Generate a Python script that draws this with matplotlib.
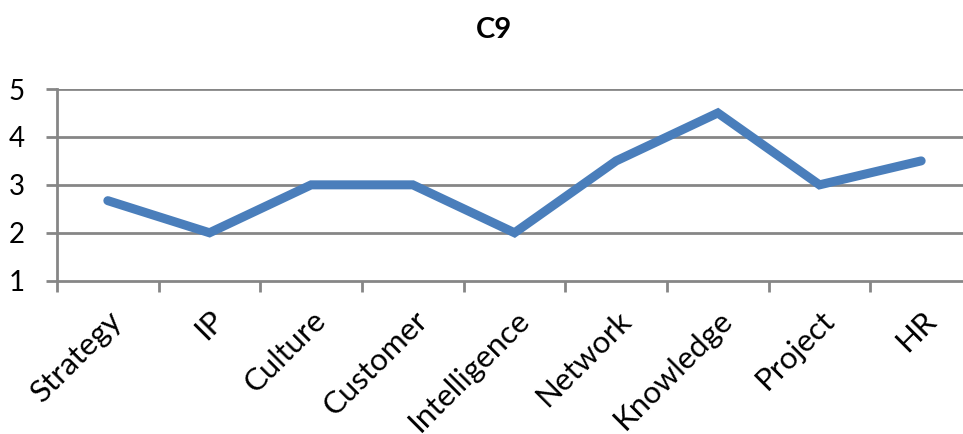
import matplotlib
matplotlib.use("Agg")
import matplotlib.pyplot as plt
import matplotlib.transforms as mtransforms
import numpy as np

categories = ["Strategy", "IP", "Culture", "Customer", "Intelligence",
              "Network", "Knowledge", "Project", "HR"]
values = [2.67, 2, 3, 3, 2, 3.5, 4.5, 3, 3.5]
yticks = [1, 2, 3, 4, 5]
title = "C9"

plt.rcParams['font.family'] = ['Lato', 'DejaVu Sans']

W, H = 963, 434
fig = plt.figure(figsize=(W/100, H/100), dpi=100)
left, right, bottom, top = 57/W, 972/W, 1 - 280.7/H, 1 - 89/H
ax = fig.add_axes([left, bottom, right - left, top - bottom])

gray = "#868686"
x = np.arange(len(categories))
ax.plot(x, values, color="#4A7EBB", lw=6.5, solid_capstyle="round",
        solid_joinstyle="miter", zorder=3)

ax.set_xlim(-0.5, len(categories) - 0.5)
ax.set_ylim(1, 5)
ax.set_yticks(yticks)
ax.set_yticklabels([str(v) for v in yticks])
for v in yticks[1:]:
    ax.axhline(v, color=gray, lw=2, zorder=1)

ax.set_xticks(x)
ax.set_xticklabels(categories, rotation=45, ha="right", rotation_mode="anchor")
offset = mtransforms.ScaledTranslation(-4/100, -1/100, fig.dpi_scale_trans)
for lab in ax.get_xticklabels():
    lab.set_transform(lab.get_transform() + offset)
ax.set_xticks(np.arange(len(categories) + 1) - 0.5, minor=True)
ax.tick_params(axis="x", which="major", length=0, pad=18, labelsize=22.5)
ax.tick_params(axis="x", which="minor", length=8, width=2, color=gray)
ax.tick_params(axis="y", length=8, width=2, color=gray, pad=15, labelsize=20)

for s in ["top", "right"]:
    ax.spines[s].set_visible(False)
for s in ["left", "bottom"]:
    ax.spines[s].set_color(gray)
    ax.spines[s].set_linewidth(2)

fig.text(494/W, 1 - 30/H, title, ha="center", va="center",
         fontsize=21, fontweight="bold")

fig.savefig("out.png", dpi=100)
